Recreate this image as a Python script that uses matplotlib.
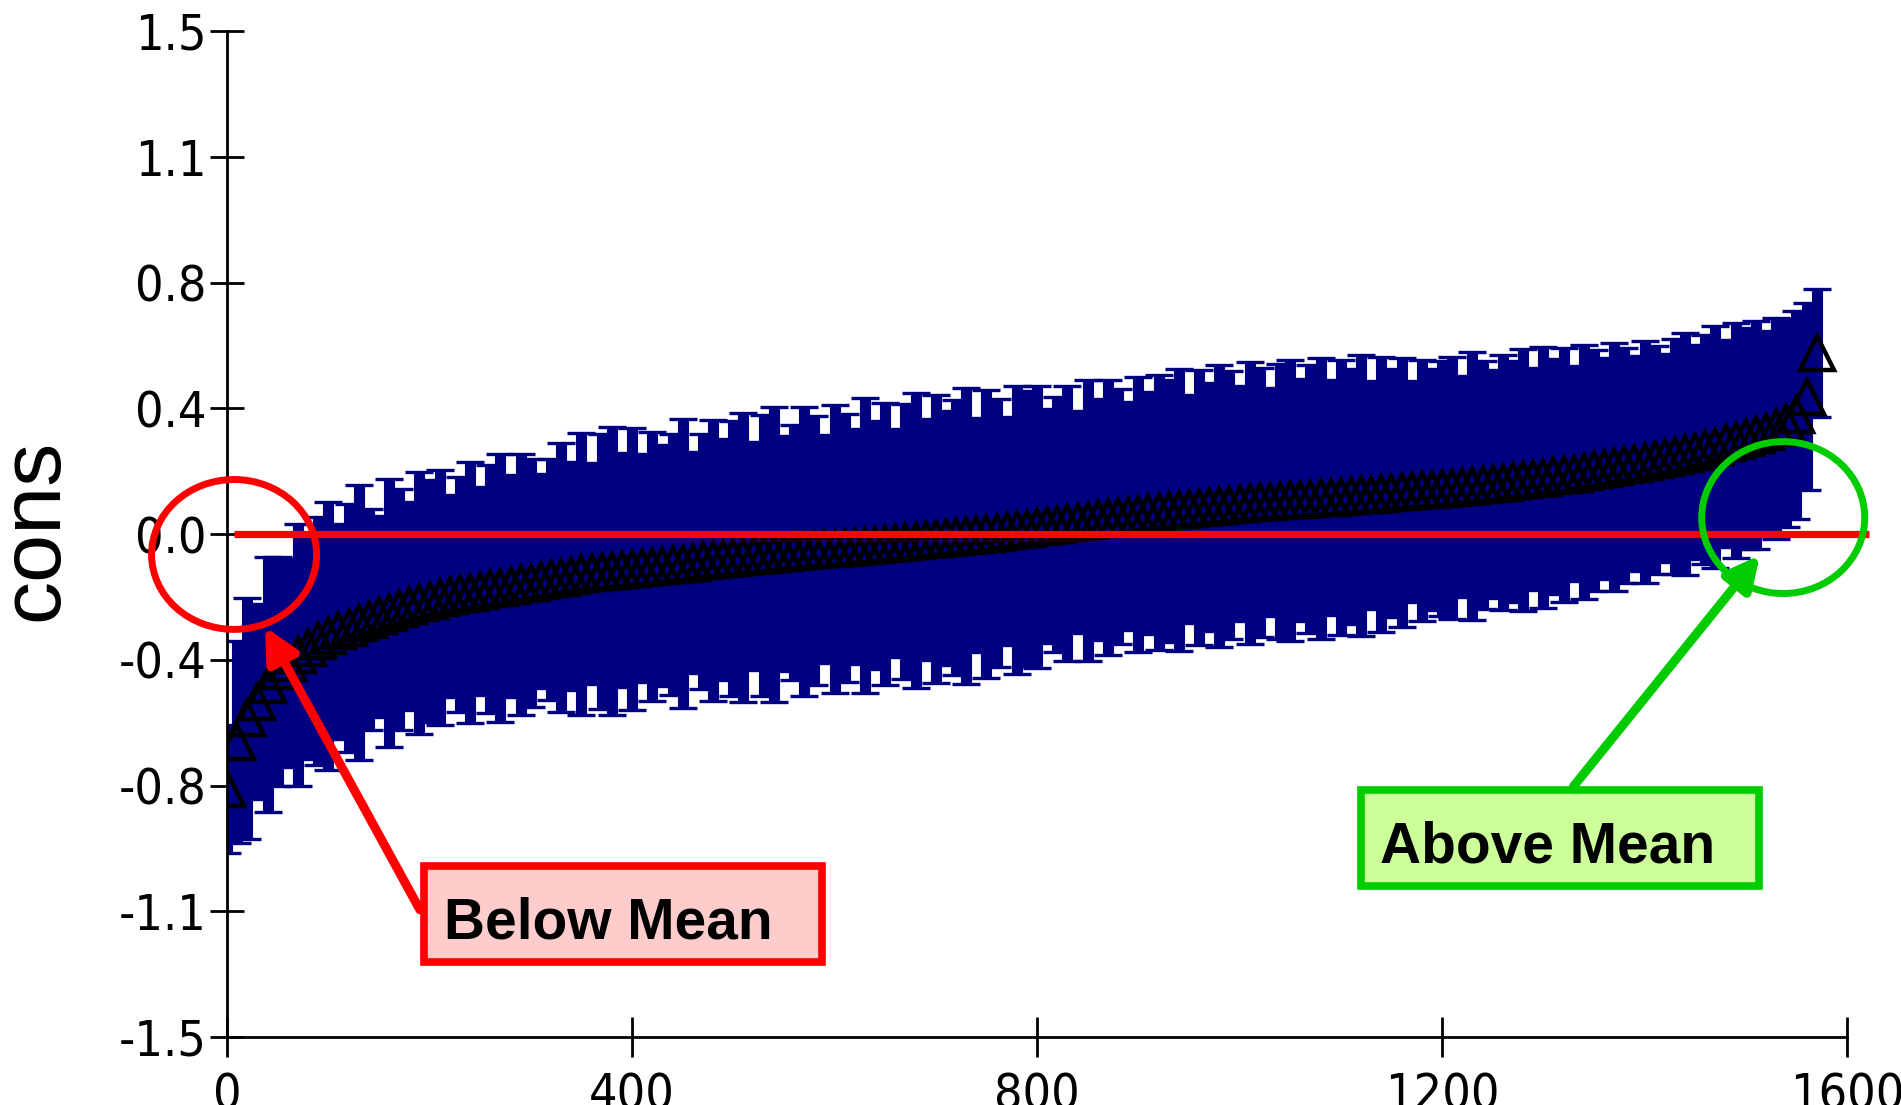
import numpy as np
import matplotlib
matplotlib.use('Agg')
import matplotlib.pyplot as plt
from matplotlib import font_manager
from matplotlib.font_manager import FontProperties
from matplotlib.patches import Ellipse, Rectangle

# ranks of the sorted units (every 10th unit)
rank = np.arange(0, 1580, 10)

# estimated value (triangles)
cons_mean = [
    -0.76, -0.62, -0.55, -0.50, -0.45, -0.41, -0.385, -0.36, -0.34, -0.32,
    -0.305, -0.29, -0.28, -0.265, -0.255, -0.245, -0.235, -0.225, -0.215, -0.205,
    -0.20, -0.19, -0.185, -0.18, -0.175, -0.17, -0.165, -0.16, -0.155, -0.15,
    -0.145, -0.14, -0.135, -0.13, -0.125, -0.12, -0.117, -0.113, -0.11, -0.107,
    -0.104, -0.10, -0.097, -0.094, -0.091, -0.088, -0.085, -0.082, -0.079, -0.076,
    -0.073, -0.07, -0.067, -0.064, -0.061, -0.058, -0.055, -0.052, -0.049, -0.046,
    -0.044, -0.041, -0.038, -0.035, -0.032, -0.029, -0.026, -0.023, -0.02, -0.017,
    -0.015, -0.012, -0.009, -0.006, -0.003, 0.0, 0.004, 0.008, 0.012, 0.016,
    0.02, 0.024, 0.028, 0.032, 0.036, 0.04, 0.044, 0.048, 0.052, 0.055,
    0.058, 0.062, 0.065, 0.068, 0.071, 0.075, 0.078, 0.081, 0.084, 0.087,
    0.09, 0.092, 0.094, 0.096, 0.098, 0.10, 0.102, 0.104, 0.106, 0.108,
    0.11, 0.112, 0.115, 0.117, 0.119, 0.122, 0.124, 0.127, 0.13, 0.132,
    0.135, 0.138, 0.141, 0.144, 0.147, 0.15, 0.153, 0.157, 0.161, 0.164,
    0.168, 0.172, 0.176, 0.18, 0.185, 0.19, 0.195, 0.2, 0.205, 0.21,
    0.215, 0.22, 0.226, 0.232, 0.238, 0.245, 0.252, 0.26, 0.27, 0.278,
    0.285, 0.295, 0.305, 0.315, 0.33, 0.355, 0.41, 0.54,
]

# half width of the interval around each estimate
cons_err = [
    0.19, 0.30, 0.36, 0.29, 0.38, 0.34, 0.31, 0.39, 0.33, 0.37,
    0.40, 0.32, 0.37, 0.41, 0.33, 0.30, 0.40, 0.36, 0.31, 0.39,
    0.36, 0.38, 0.30, 0.35, 0.39, 0.31, 0.37, 0.40, 0.33, 0.39,
    0.37, 0.32, 0.36, 0.40, 0.34, 0.42, 0.33, 0.41, 0.43, 0.35,
    0.42, 0.34, 0.40, 0.36, 0.39, 0.43, 0.33, 0.38, 0.42, 0.36,
    0.41, 0.43, 0.34, 0.42, 0.44, 0.35, 0.38, 0.43, 0.40, 0.34,
    0.43, 0.40, 0.35, 0.44, 0.37, 0.42, 0.34, 0.41, 0.44, 0.36,
    0.43, 0.38, 0.41, 0.44, 0.35, 0.43, 0.40, 0.34, 0.43, 0.41,
    0.42, 0.35, 0.38, 0.41, 0.33, 0.42, 0.36, 0.41, 0.38, 0.34,
    0.41, 0.36, 0.41, 0.39, 0.42, 0.34, 0.41, 0.37, 0.42, 0.40,
    0.35, 0.42, 0.40, 0.34, 0.41, 0.42, 0.36, 0.40, 0.42, 0.35,
    0.41, 0.38, 0.42, 0.34, 0.41, 0.37, 0.40, 0.33, 0.39, 0.36,
    0.38, 0.39, 0.33, 0.40, 0.37, 0.34, 0.38, 0.36, 0.39, 0.33,
    0.39, 0.35, 0.38, 0.32, 0.38, 0.36, 0.33, 0.37, 0.35, 0.32,
    0.36, 0.34, 0.31, 0.35, 0.36, 0.32, 0.34, 0.36, 0.31, 0.35,
    0.33, 0.34, 0.30, 0.33, 0.31, 0.31, 0.28, 0.19,
]

ytick_vals = np.linspace(-1.5, 1.5, 9)
ytick_labels = ['-1.5', '-1.1', '-0.8', '-0.4', '0.0', '0.4', '0.8', '1.1', '1.5']
xtick_vals = [0, 400, 800, 1200, 1600]
xtick_labels = ['0', '400', '800', '1200', '1600']
mean_level = 0.0

navy = '#000080'
green = '#00CC00'


def find_narrow(bold):
    for f in font_manager.fontManager.ttflist:
        fn = f.fname.lower()
        if not any(k in fn for k in ['sansnarrow', 'sans-narrow', 'sanscondensed', 'arialn']):
            continue
        if ('bold' in fn) != bold or 'italic' in fn or 'oblique' in fn:
            continue
        return f.fname
    return None


nreg = find_narrow(False)
tick_fp = FontProperties(fname=nreg) if nreg else FontProperties(family='Liberation Sans')
tick_size = 36
call_fp = FontProperties(family=['Liberation Sans', 'DejaVu Sans'], weight='bold')

W, H = 1901, 1105
fig = plt.figure(figsize=(W / 100, H / 100), dpi=100)
ax = fig.add_axes([227 / W, 1 - 1037 / H, 1620 / W, 1006 / H])

ax.errorbar(rank, cons_mean, yerr=cons_err, fmt='none', ecolor=navy,
            elinewidth=8, capsize=10, capthick=2.4, zorder=2)
ax.plot(rank, cons_mean, linestyle='none', marker='^', markersize=24,
        markerfacecolor='none', markeredgecolor='black', markeredgewidth=3.2, zorder=3)
ax.plot([7, 1622], [mean_level, mean_level], color='red', lw=5.2,
        clip_on=False, zorder=5, solid_capstyle='butt')

ax.set_xlim(0, 1600)
ax.set_ylim(-1.5, 1.5)
ax.set_yticks(ytick_vals)
ax.set_yticklabels(ytick_labels)
ax.set_xticks(xtick_vals)
ax.set_xticklabels(xtick_labels)
for s in ['top', 'right']:
    ax.spines[s].set_visible(False)
for s in ['left', 'bottom']:
    ax.spines[s].set_linewidth(2)
ax.tick_params(axis='y', direction='inout', length=25, width=2, pad=2)
ax.tick_params(axis='x', direction='inout', length=29, width=2, pad=10)
for lbl in ax.get_xticklabels() + ax.get_yticklabels():
    lbl.set_fontproperties(tick_fp)
    lbl.set_fontsize(tick_size)

fig.text(35 / W, 1 - 530 / H, 'cons', rotation=90, ha='center', va='center',
         fontsize=62, family=['Liberation Sans', 'DejaVu Sans'])

# callouts
ax.add_patch(Ellipse((7, -0.061), 163, 0.447, fill=False, ec='red', lw=5,
                     clip_on=False, zorder=6))
ax.add_patch(Ellipse((1537, 0.049), 161, 0.453, fill=False, ec=green, lw=5,
                     clip_on=False, zorder=6))

ax.add_patch(Rectangle((195, -1.276), 393, 0.286, fc='#FFCCCC', ec='red', lw=5.5,
                       clip_on=False, zorder=6))
ax.add_patch(Rectangle((1120, -1.050), 393, 0.287, fc='#CCFF99', ec=green, lw=5.5,
                       clip_on=False, zorder=6))
t1 = ax.text(214, -1.205, 'Below Mean', fontproperties=call_fp, ha='left',
             va='baseline', zorder=7)
t2 = ax.text(1139, -0.981, 'Above Mean', fontproperties=call_fp, ha='left',
             va='baseline', zorder=7)

renderer = fig.canvas.get_renderer()
t2.set_fontsize(40)
w = t2.get_window_extent(renderer).width
call_size = min(48, 40 * 335 / w)
t1.set_fontsize(call_size)
t2.set_fontsize(call_size)

arrow_style = '-|>,head_length=1.0,head_width=0.5'
ax.annotate('', xy=(37.5, -0.277), xytext=(190.6, -1.121), annotation_clip=False,
            arrowprops=dict(arrowstyle=arrow_style, mutation_scale=20, lw=6.5,
                            color='red', shrinkA=0, shrinkB=0), zorder=6)
ax.annotate('', xy=(1514, -0.063), xytext=(1330, -0.752), annotation_clip=False,
            arrowprops=dict(arrowstyle=arrow_style, mutation_scale=20, lw=6.5,
                            color=green, shrinkA=0, shrinkB=0), zorder=6)

fig.savefig('out.png', dpi=100)
